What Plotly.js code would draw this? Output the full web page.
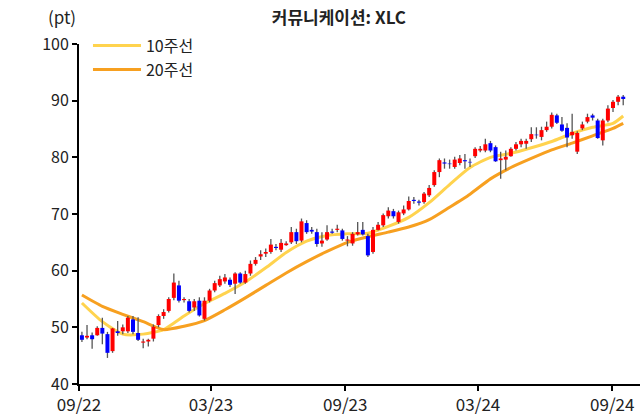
<!DOCTYPE html>
<html>
<head>
<meta charset="utf-8">
<script src="https://cdn.plot.ly/plotly-3.0.1.min.js"></script>
<style>
  html, body { margin: 0; padding: 0; background: #fff; }
  #chart { width: 643px; height: 419px; }
</style>
</head>
<body>
<div id="chart"></div>
<script>
// weekly candles, XLC, first week starts 2022-09-05
const firstWeek = Date.UTC(2022, 8, 5);

const opens = [48.6, 48.2, 48.6, 48.6, 49.9, 48.8, 45.8, 49.3, 49.3, 49.3,
  51.4, 49.0, 47.3, 47.5, 48.0, 50.4, 52.0, 52.9, 55.2, 57.4,
  54.8, 54.6, 53.5, 54.7, 51.5, 54.7, 56.5, 57.4, 58.1, 58.4,
  57.7, 59.5, 57.9, 59.5, 61.2, 62.5, 63.0, 63.3, 64.2, 63.7,
  64.5, 65.0, 66.8, 65.3, 68.4, 67.2, 66.8, 64.8, 65.5, 66.9,
  67.2, 67.1, 65.3, 64.8, 66.4, 67.2, 66.1, 63.3, 67.2, 68.0,
  69.6, 70.5, 68.6, 70.1, 70.8, 72.5, 72.2, 72.1, 73.3, 75.1,
  77.4, 79.1, 78.9, 78.3, 79.0, 79.5, 79.2, 80.2, 81.2, 81.2,
  82.5, 81.8, 79.5, 79.6, 80.2, 81.5, 82.3, 82.4, 83.2, 84.0,
  83.6, 84.8, 85.4, 87.4, 85.8, 85.2, 83.9, 81.0, 85.1, 86.3,
  87.4, 86.5, 83.0, 86.5, 88.7, 89.8, 90.7];
const highs = [49.2, 50.4, 49.1, 50.2, 51.7, 49.2, 49.9, 51.1, 50.5, 52.0,
  52.0, 51.8, 48.0, 48.0, 50.5, 52.3, 53.2, 55.3, 59.5, 58.2,
  55.3, 55.0, 55.0, 55.3, 55.3, 56.8, 58.2, 59.1, 59.4, 58.8,
  59.7, 59.7, 60.0, 61.8, 62.4, 63.6, 63.9, 65.6, 64.7, 65.6,
  65.2, 67.7, 67.4, 69.2, 68.9, 67.7, 67.4, 66.8, 68.0, 67.4,
  68.1, 67.4, 66.1, 66.8, 68.6, 68.6, 66.5, 67.7, 68.6, 70.1,
  71.2, 70.9, 70.6, 71.5, 73.1, 73.0, 72.5, 73.9, 75.1, 77.7,
  79.8, 79.8, 79.6, 80.1, 80.4, 80.6, 79.8, 81.8, 82.0, 83.3,
  82.9, 82.1, 81.0, 81.2, 81.8, 82.7, 83.3, 83.3, 85.3, 85.3,
  85.4, 86.3, 87.9, 87.7, 87.1, 86.0, 87.7, 84.6, 86.3, 87.7,
  87.7, 86.8, 86.8, 89.2, 90.1, 91.0, 91.0];
const lows = [47.4, 47.9, 46.2, 48.5, 47.0, 44.6, 45.5, 48.5, 48.8, 49.0,
  48.8, 47.6, 46.3, 46.6, 47.5, 50.0, 51.5, 52.6, 54.8, 54.4,
  54.4, 52.6, 52.9, 51.9, 51.2, 54.4, 56.2, 57.1, 57.7, 57.1,
  55.9, 57.7, 57.7, 59.1, 60.9, 61.9, 62.4, 63.0, 63.6, 63.3,
  64.4, 64.7, 64.7, 65.0, 66.5, 66.5, 64.2, 64.2, 65.3, 66.5,
  66.8, 65.3, 64.3, 64.4, 66.2, 66.2, 62.4, 63.0, 67.1, 67.7,
  69.2, 69.2, 68.3, 69.8, 70.6, 71.8, 71.5, 71.8, 73.0, 74.8,
  76.5, 78.0, 78.0, 78.0, 78.6, 78.0, 78.3, 79.9, 80.9, 80.9,
  80.9, 79.2, 76.2, 77.7, 80.1, 81.2, 81.8, 81.5, 82.7, 83.3,
  83.0, 84.5, 85.1, 85.9, 84.5, 81.8, 83.3, 80.6, 84.8, 86.0,
  86.5, 83.3, 82.1, 86.2, 88.0, 89.2, 89.2];
const closes = [47.8, 48.5, 47.9, 49.9, 48.9, 45.5, 49.8, 49.0, 50.0, 51.7,
  49.2, 47.8, 47.5, 47.8, 50.1, 52.0, 52.7, 55.0, 57.9, 54.7,
  55.0, 52.9, 54.6, 52.1, 54.7, 56.5, 57.8, 58.5, 58.8, 57.5,
  59.5, 57.9, 59.4, 61.2, 61.9, 62.9, 63.3, 64.6, 64.0, 64.9,
  64.8, 66.8, 65.2, 68.7, 66.8, 66.9, 64.7, 65.3, 66.8, 66.7,
  67.4, 65.6, 65.5, 66.5, 66.8, 66.4, 62.7, 67.2, 68.1, 69.8,
  70.6, 69.6, 70.3, 70.8, 72.3, 72.3, 72.0, 73.6, 74.6, 77.4,
  79.5, 78.9, 78.8, 79.6, 79.8, 79.3, 79.1, 81.5, 81.5, 82.3,
  81.2, 79.3, 79.8, 80.1, 81.5, 82.3, 82.9, 82.9, 84.1, 83.9,
  84.8, 85.4, 87.5, 86.1, 84.7, 83.5, 84.5, 84.3, 85.8, 87.1,
  87.0, 83.4, 86.5, 88.6, 89.8, 90.7, 90.3];

// moving averages, every 4th week
const maWeeks = [0, 4, 8, 12, 16, 20, 24, 28, 32, 36, 40, 44, 48, 52,
  56, 60, 64, 68, 72, 76, 80, 84, 88, 92, 96, 100, 104, 106];
const ma10 = [54.3, 51.0, 48.8, 48.8, 49.6, 52.0, 54.2, 56.0, 58.0, 60.5,
  63.2, 65.2, 66.2, 66.5, 66.6, 67.8, 69.4, 72.0, 75.2, 78.2,
  80.0, 80.7, 81.7, 82.8, 84.2, 85.3, 86.0, 87.3];
const ma20 = [55.7, 53.7, 52.3, 51.0, 49.6, 50.2, 51.2, 53.1, 55.2, 57.4,
  59.6, 61.6, 63.4, 65.0, 66.0, 66.8, 67.7, 69.0, 71.2, 73.5,
  76.2, 78.2, 79.8, 81.3, 82.5, 83.8, 85.1, 86.0];

const tickDates = ['2022-09-01', '2023-03-01', '2023-09-01', '2024-03-01', '2024-09-01'];
const tickLabels = ['09/22', '03/23', '09/23', '03/24', '09/24'];

function weekDate(i) {
  return new Date(firstWeek + i * 7 * 864e5).toISOString().slice(0, 10);
}

const dates = closes.map((c, i) => weekDate(i));

// split candles into up (red) and down (blue) bodies
const up = { x: [], y: [], h: [] };
const down = { x: [], y: [], h: [] };
closes.forEach((c, i) => {
  const o = opens[i];
  const grp = c >= o ? up : down;
  grp.x.push(dates[i]);
  grp.y.push((o + c) / 2);
  grp.h.push(Math.abs(c - o) / 2);
});

const FONT = '"Noto Sans CJK KR", "Noto Sans", sans-serif';
const hidden = { size: 1, color: 'rgba(0,0,0,0)' };

const traces = [
  {
    x: maWeeks.map(weekDate), y: ma10, type: 'scatter', mode: 'lines',
    name: '10주선', line: { color: '#FFD34E', width: 3, shape: 'spline', smoothing: 0.6 },
    hoverinfo: 'skip'
  },
  {
    x: maWeeks.map(weekDate), y: ma20, type: 'scatter', mode: 'lines',
    name: '20주선', line: { color: '#F7A020', width: 3, shape: 'spline', smoothing: 0.6 },
    hoverinfo: 'skip'
  },
  {
    // wicks
    x: dates, y: lows, type: 'scatter', mode: 'markers', marker: hidden,
    showlegend: false, hoverinfo: 'skip',
    error_y: {
      type: 'data', symmetric: false,
      array: highs.map((h, i) => h - lows[i]), arrayminus: lows.map(() => 0),
      width: 0, thickness: 1.3, color: '#555555'
    }
  },
  {
    x: up.x, y: up.y, type: 'scatter', mode: 'markers', marker: hidden,
    showlegend: false, hoverinfo: 'skip',
    error_y: { type: 'data', array: up.h, width: 0, thickness: 4, color: '#FF0000' }
  },
  {
    x: down.x, y: down.y, type: 'scatter', mode: 'markers', marker: hidden,
    showlegend: false, hoverinfo: 'skip',
    error_y: { type: 'data', array: down.h, width: 0, thickness: 4, color: '#0000FF' }
  }
];

const layout = {
  width: 643,
  height: 419,
  margin: { l: 79, r: 3, t: 44, b: 35 },
  paper_bgcolor: '#ffffff',
  plot_bgcolor: '#ffffff',
  font: { family: FONT, size: 16, color: '#222' },
  title: {
    text: '<b>커뮤니케이션: XLC</b>',
    font: { family: FONT, size: 17, color: '#222' },
    xref: 'container', x: 0.527, xanchor: 'center',
    yref: 'container', y: 0.958, yanchor: 'middle'
  },
  xaxis: {
    type: 'date',
    range: ['2022-09-01', '2024-10-09'],
    tickmode: 'array', tickvals: tickDates, ticktext: tickLabels,
    showline: true, linecolor: '#000', linewidth: 2,
    ticks: 'outside', ticklen: 5, tickwidth: 2, tickcolor: '#000',
    showgrid: false, zeroline: false,
    tickfont: { family: FONT, size: 17, color: '#222' }
  },
  yaxis: {
    range: [40, 100], dtick: 10,
    showline: true, linecolor: '#000', linewidth: 2,
    ticks: 'outside', ticklen: 5, tickwidth: 2, tickcolor: '#000',
    showgrid: false, zeroline: false,
    tickfont: { family: FONT, size: 16, color: '#222' }
  },
  legend: {
    x: 0.016, y: 1.045, xanchor: 'left', yanchor: 'top',
    bgcolor: 'rgba(0,0,0,0)', tracegroupgap: 0, itemwidth: 48,
    font: { family: FONT, size: 16, color: '#222' }
  },
  annotations: [{
    text: '(pt)', xref: 'paper', yref: 'paper', x: -0.03, y: 1.08,
    xanchor: 'center', yanchor: 'middle', showarrow: false,
    font: { family: FONT, size: 17, color: '#222' }
  }],
  showlegend: true
};

Plotly.newPlot('chart', traces, layout, { displayModeBar: false, staticPlot: true });
</script>
</body>
</html>
